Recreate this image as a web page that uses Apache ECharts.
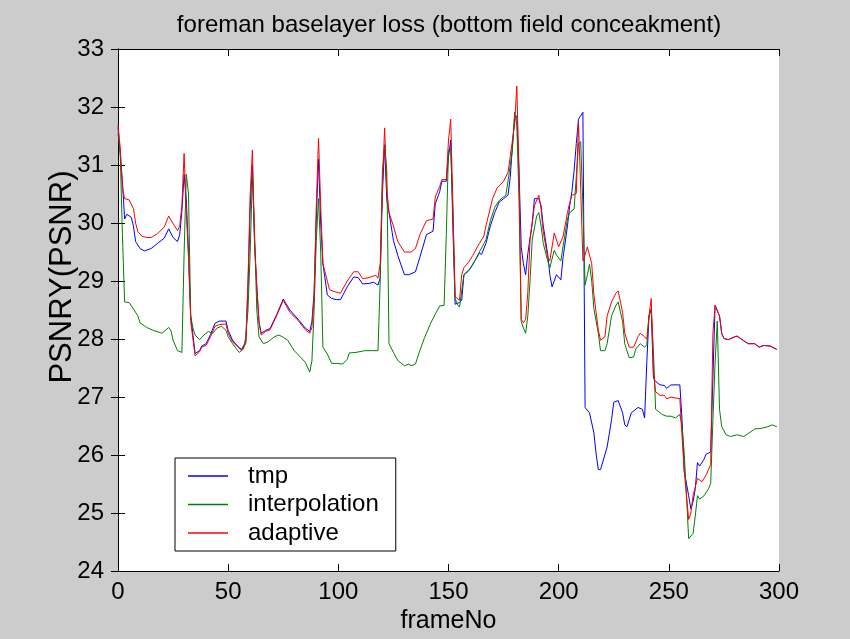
<!DOCTYPE html>
<html>
<head>
<meta charset="utf-8">
<script src="https://cdn.jsdelivr.net/npm/echarts@6/dist/echarts.min.js"></script>
<style>
html,body{margin:0;padding:0;background:#cccccc;}
#chart{width:850px;height:639px;}
</style>
</head>
<body>
<div id="chart"></div>
<script>
const chartTitle = 'foreman baselayer loss (bottom field conceakment)';
const xName = 'frameNo';
const yName = 'PSNRY(PSNR)';
const seriesNames = ['tmp', 'interpolation', 'adaptive'];
const xTicks = [0, 50, 100, 150, 200, 250, 300];
const yTicks = [24, 25, 26, 27, 28, 29, 30, 31, 32, 33];

const tmpData = [[0,31.65],[1,31.2],[2,30.72],[3,30.07],[4,30.15],[6,30.1],[7,29.95],[8,29.68],[10,29.56],[12,29.52],[15,29.56],[18,29.65],[21,29.74],[23,29.9],[25,29.75],[27,29.68],[28,29.8],[29,30.2],[30,30.84],[31,30.4],[32,29.5],[33,28.4],[35,27.75],[37,27.8],[38,27.88],[40,27.92],[42,28.08],[44,28.27],[46,28.31],[49,28.31],[50,28.15],[52,27.98],[54,27.89],[56,27.82],[58,27.95],[59,28.9],[60,30.3],[61,31.0],[62,29.6],[63,28.9],[64,28.3],[65,28.1],[67,28.15],[69,28.18],[72,28.42],[75,28.69],[78,28.5],[82,28.33],[85,28.19],[87,28.13],[88,28.3],[89,28.8],[90,30.1],[91,31.1],[92,30.0],[93,29.3],[95,28.76],[97,28.7],[99,28.68],[101,28.68],[104,28.9],[107,29.07],[109,29.06],[111,28.95],[114,28.96],[116,28.98],[118,28.93],[119,29.05],[120,30.5],[121,31.35],[122,30.4],[123,30.18],[125,29.7],[127,29.44],[130,29.11],[132,29.11],[135,29.16],[137,29.41],[140,29.8],[143,29.86],[144,30.33],[146,30.54],[147,30.72],[149,30.72],[150,31.14],[151,31.43],[152,29.9],[153,28.6],[155,28.63],[156,28.67],[157,29.11],[159,29.17],[162,29.35],[164,29.48],[165,29.46],[167,29.65],[169,29.95],[171,30.18],[173,30.36],[175,30.42],[177,30.48],[178,30.78],[179,31.32],[180,31.8],[181,31.85],[182,30.9],[183,29.59],[184,29.3],[185,29.11],[186,29.47],[188,30.0],[189,30.42],[191,30.42],[192,30.3],[193,29.95],[195,29.47],[196,29.11],[197,28.9],[199,29.11],[201,29.02],[202,29.41],[204,29.95],[205,30.3],[206,30.54],[207,30.9],[208,31.37],[209,31.79],[211,31.91],[212,26.82],[214,26.73],[216,26.38],[217,26.02],[218,25.75],[219,25.75],[222,26.14],[224,26.61],[225,26.91],[227,26.94],[229,26.73],[230,26.52],[231,26.49],[233,26.73],[236,26.82],[238,26.79],[239,26.64],[240,27.6],[241,28.4],[242,28.52],[243,27.33],[244,27.27],[246,27.21],[248,27.2],[249,27.15],[251,27.21],[255,27.21],[256,26.6],[257,25.72],[259,25.3],[260,25.07],[261,25.2],[262,25.42],[263,25.87],[264,25.81],[266,25.93],[267,26.02],[269,26.05],[270,27.33],[271,28.58],[273,28.4],[274,28.1],[275,28.01],[277,27.99],[280,28.04],[281,28.05],[284,27.97],[286,27.92],[289,27.92],[291,27.86],[293,27.89],[296,27.88],[299,27.82]];

const interpolationData = [[0,31.55],[1,31.2],[2,29.8],[3,28.64],[5,28.63],[7,28.52],[9,28.4],[10,28.28],[13,28.2],[16,28.15],[20,28.1],[23,28.2],[24,28.15],[25,27.98],[27,27.8],[29,27.77],[30,29.47],[31,30.84],[32,30.5],[33,28.4],[34,28.19],[35,28.07],[37,27.99],[39,28.07],[41,28.13],[43,28.1],[45,28.19],[47,28.22],[49,28.15],[50,28.04],[52,27.92],[55,27.77],[57,27.83],[58,28.04],[59,28.5],[60,29.5],[61,30.84],[62,29.8],[63,28.5],[64,28.04],[66,27.92],[68,27.95],[71,28.04],[73,28.07],[75,28.03],[77,27.98],[80,27.8],[83,27.68],[85,27.6],[87,27.43],[88,27.62],[89,28.5],[90,29.7],[91,30.42],[92,29.5],[93,27.86],[95,27.74],[97,27.58],[99,27.58],[102,27.57],[104,27.65],[105,27.76],[108,27.77],[112,27.8],[115,27.8],[118,27.8],[119,29.0],[120,30.9],[121,31.32],[122,30.9],[123,27.92],[125,27.77],[127,27.63],[130,27.54],[132,27.57],[133,27.54],[135,27.57],[137,27.8],[139,28.01],[142,28.28],[144,28.43],[146,28.57],[148,28.58],[149,29.8],[150,31.26],[151,31.29],[152,30.2],[153,28.7],[154,28.6],[155,28.55],[157,29.11],[160,29.22],[162,29.35],[164,29.5],[167,29.71],[169,30.04],[171,30.27],[173,30.39],[176,30.48],[177,30.72],[179,31.26],[180,31.91],[181,31.7],[182,30.4],[183,28.3],[184,28.19],[185,28.1],[186,28.4],[187,29.0],[188,29.71],[190,30.12],[191,30.18],[192,29.95],[193,29.65],[195,29.35],[196,29.23],[198,29.53],[199,29.45],[201,29.35],[202,29.6],[204,30.07],[205,30.18],[207,30.24],[208,30.8],[209,31.37],[210,31.4],[211,30.3],[212,28.93],[213,29.1],[214,29.29],[215,29.0],[216,28.52],[218,28.1],[219,27.8],[221,27.8],[222,27.92],[224,28.4],[226,28.58],[227,28.64],[229,28.3],[230,27.92],[232,27.68],[234,27.69],[235,27.83],[237,27.92],[239,27.86],[240,27.9],[241,28.4],[242,28.52],[243,27.8],[244,26.79],[245,26.76],[247,26.7],[249,26.67],[251,26.67],[253,26.64],[255,26.7],[256,26.5],[257,26.02],[258,25.3],[259,24.56],[261,24.65],[262,24.95],[263,25.3],[264,25.24],[266,25.3],[268,25.42],[269,25.51],[270,26.6],[271,27.6],[272,28.31],[273,26.79],[274,26.49],[276,26.35],[278,26.32],[281,26.35],[284,26.32],[286,26.37],[289,26.45],[292,26.46],[295,26.49],[297,26.52],[299,26.49]];

const adaptiveData = [[0,31.7],[1,31.3],[2,30.6],[3,30.42],[5,30.4],[7,30.25],[8,30.0],[9,29.85],[11,29.77],[13,29.75],[15,29.75],[18,29.82],[21,29.93],[23,30.12],[24,30.05],[27,29.87],[28,29.95],[29,30.3],[30,31.2],[31,30.2],[32,29.4],[33,28.3],[35,27.71],[37,27.78],[38,27.86],[40,27.89],[42,28.04],[44,28.22],[46,28.25],[49,28.26],[50,28.1],[52,27.95],[54,27.88],[56,27.8],[58,27.92],[59,29.0],[60,30.5],[61,31.26],[62,29.7],[63,28.9],[64,28.28],[65,28.07],[67,28.13],[69,28.16],[72,28.4],[75,28.67],[78,28.46],[82,28.31],[85,28.16],[87,28.1],[88,28.2],[89,28.73],[90,30.3],[91,31.46],[92,30.3],[93,29.3],[95,29.0],[96,28.85],[98,28.82],[101,28.79],[104,29.0],[107,29.16],[109,29.16],[111,29.04],[114,29.06],[117,29.1],[118,29.05],[119,29.3],[120,30.66],[121,31.64],[122,30.6],[123,30.18],[125,29.95],[127,29.68],[130,29.5],[133,29.5],[135,29.56],[137,29.8],[140,30.04],[143,30.07],[144,30.45],[146,30.63],[147,30.75],[149,30.75],[150,31.43],[151,31.79],[152,30.3],[153,28.73],[155,28.67],[156,29.11],[157,29.23],[159,29.32],[161,29.44],[164,29.65],[166,29.77],[167,29.95],[170,30.42],[172,30.6],[175,30.72],[177,30.87],[178,31.14],[180,31.7],[181,32.36],[182,30.9],[183,28.34],[184,28.28],[185,28.34],[186,28.8],[187,29.71],[189,30.3],[191,30.48],[192,30.25],[193,29.85],[195,29.41],[196,29.35],[198,29.83],[200,29.59],[202,29.77],[204,30.18],[205,30.35],[206,30.48],[208,30.51],[209,31.73],[210,30.6],[211,29.35],[212,29.45],[213,29.59],[215,29.3],[216,28.76],[218,28.16],[219,27.98],[221,28.04],[222,28.4],[224,28.64],[226,28.79],[227,28.83],[229,28.46],[230,28.1],[232,27.86],[234,27.86],[236,28.04],[237,28.1],[239,28.04],[240,28.0],[241,28.4],[242,28.7],[243,27.45],[244,27.09],[246,27.03],[248,27.03],[249,26.97],[251,27.0],[255,26.97],[256,26.32],[257,25.72],[259,24.89],[260,25.0],[261,25.3],[263,25.6],[265,25.54],[267,25.66],[269,25.84],[270,28.1],[271,28.58],[273,28.4],[274,28.1],[275,28.01],[277,27.99],[280,28.04],[281,28.05],[284,27.97],[286,27.92],[289,27.92],[291,27.86],[293,27.89],[296,27.88],[299,27.82]];

const seriesData = [tmpData, interpolationData, adaptiveData];
const seriesColors = ['#0000ff', '#008000', '#ff0000'];

const FONT = 'Liberation Sans, Arial, sans-serif';
const chart = echarts.init(document.getElementById('chart'), null, {renderer: 'canvas'});

const axisLineStyle = {show: true, lineStyle: {color: '#000', width: 1}};
const tickStyle = {show: true, inside: true, length: 7, lineStyle: {color: '#000', width: 1}};

const option = {
  backgroundColor: '#cccccc',
  animation: false,
  title: {
    text: chartTitle,
    left: 444,
    textAlign: 'center',
    top: 8,
    textStyle: {fontFamily: FONT, fontSize: 24, fontWeight: 'normal', color: '#000'}
  },
  grid: {left: 118, right: 71, top: 49, bottom: 67, show: true, backgroundColor: '#ffffff', borderWidth: 0},
  legend: {
    orient: 'vertical',
    left: 175,
    top: 458,
    padding: [6, 17, 6, 13],
    backgroundColor: '#ffffff',
    borderColor: '#000',
    borderWidth: 1,
    borderRadius: 0,
    icon: 'rect',
    itemWidth: 40,
    itemHeight: 1.5,
    itemGap: 4.5,
    textStyle: {fontFamily: FONT, fontSize: 24, color: '#000', padding: [0, 0, 0, 15], lineHeight: 24},
    data: seriesNames
  },
  xAxis: [{
    type: 'value', min: xTicks[0], max: xTicks[xTicks.length - 1], interval: 50,
    name: xName, nameLocation: 'middle', nameGap: 35,
    nameTextStyle: {fontFamily: FONT, fontSize: 25, color: '#000'},
    axisLine: axisLineStyle, axisTick: tickStyle,
    axisLabel: {fontFamily: FONT, fontSize: 24, color: '#000', margin: 9},
    splitLine: {show: false}
  }, {
    type: 'value', position: 'top', min: xTicks[0], max: xTicks[xTicks.length - 1], interval: 50,
    axisLine: axisLineStyle, axisTick: tickStyle, axisLabel: {show: false}, splitLine: {show: false}
  }],
  yAxis: [{
    type: 'value', min: yTicks[0], max: yTicks[yTicks.length - 1], interval: 1,
    name: yName, nameLocation: 'middle', nameGap: 40, nameMoveOverlap: false,
    nameTextStyle: {fontFamily: FONT, fontSize: 31, color: '#000', padding: [0, 0, 0, 66]},
    axisLine: axisLineStyle, axisTick: tickStyle,
    axisLabel: {fontFamily: FONT, fontSize: 24, color: '#000', margin: 14},
    splitLine: {show: false}
  }, {
    type: 'value', position: 'right', min: yTicks[0], max: yTicks[yTicks.length - 1], interval: 1,
    axisLine: axisLineStyle, axisTick: tickStyle, axisLabel: {show: false}, splitLine: {show: false}
  }],
  series: seriesNames.map((n, i) => ({
    name: n,
    type: 'line',
    data: seriesData[i],
    symbol: 'none',
    showSymbol: false,
    lineStyle: {color: seriesColors[i], width: 1},
    itemStyle: {color: seriesColors[i]},
    emphasis: {disabled: true},
    z: 2 + i
  }))
};
chart.setOption(option);
</script>
</body>
</html>
